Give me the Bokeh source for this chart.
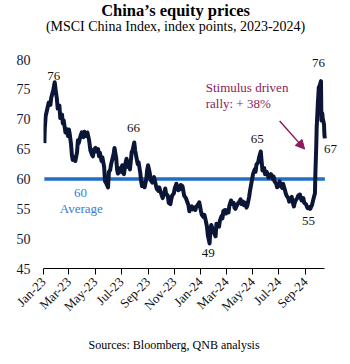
import datetime as dt
from bokeh.plotting import figure
from bokeh.models import Range1d, FixedTicker, Label, Arrow, NormalHead, ColumnDataSource, Title
from bokeh.embed import file_html
from bokeh.resources import INLINE
import math

# ---- data -----------------------------------------------------------------
dates_2023 = ["01-03", "01-04", "01-06", "01-10", "01-13", "01-17", "01-19", "01-24", "01-27", "01-30",
              "02-01", "02-03", "02-07", "02-09", "02-13", "02-15", "02-17", "02-21", "02-23", "02-27",
              "03-01", "03-03", "03-06", "03-08", "03-10", "03-14", "03-16", "03-20", "03-22", "03-24",
              "03-28", "03-31", "04-04", "04-06", "04-11", "04-13", "04-17", "04-20", "04-24", "04-26",
              "04-28", "05-02", "05-04", "05-08", "05-10", "05-12", "05-16", "05-18", "05-22", "05-24",
              "05-26", "05-31", "06-02", "06-05", "06-07", "06-09", "06-13", "06-15", "06-19", "06-21",
              "06-23", "06-27", "06-29", "07-03", "07-05", "07-07", "07-11", "07-13", "07-17", "07-19",
              "07-21", "07-25", "07-27", "07-31", "08-02", "08-04", "08-08", "08-10", "08-14", "08-16",
              "08-18", "08-22", "08-24", "08-28", "08-30", "09-01", "09-05", "09-07", "09-11", "09-13",
              "09-15", "09-19", "09-21", "09-25", "09-27", "10-03", "10-05", "10-09", "10-11", "10-13",
              "10-17", "10-19", "10-23", "10-25", "10-27", "10-31", "11-02", "11-06", "11-08", "11-10",
              "11-14", "11-16", "11-20", "11-22", "11-24", "11-28", "11-30", "12-04", "12-06", "12-08",
              "12-12", "12-14", "12-18", "12-20", "12-22", "12-27", "12-29"]
values_2023 = [66.0, 68.5, 70.5, 71.8, 72.8, 72.4, 73.6, 75.0, 76.2, 74.5,
               73.5, 71.8, 72.3, 70.2, 70.8, 69.3, 69.8, 67.8, 68.4, 67.2,
               68.3, 67.5, 65.8, 64.0, 63.2, 63.6, 63.0, 64.5, 66.5, 66.0,
               67.2, 67.8, 67.0, 67.9, 67.2, 67.8, 66.5, 64.8, 64.0, 63.8,
               64.9, 65.2, 64.6, 65.0, 63.8, 64.4, 63.0, 63.6, 62.0, 59.6,
               59.4, 58.6, 61.2, 61.5, 62.4, 63.0, 64.2, 65.2, 63.5, 61.6,
               60.9, 61.8, 61.2, 62.3, 61.0, 60.8, 62.8, 63.4, 62.0, 62.5,
               61.6, 64.5, 64.8, 66.1, 64.8, 64.0, 62.5, 62.8, 61.0, 59.6,
               58.8, 59.4, 58.6, 60.0, 61.5, 62.3, 61.0, 59.8, 59.4, 59.9,
               60.3, 59.0, 58.4, 58.0, 58.6, 57.2, 56.8, 57.6, 58.4, 57.5,
               57.2, 56.0, 55.8, 56.6, 57.2, 57.6, 58.4, 59.2, 58.6, 58.1,
               58.3, 59.0, 58.8, 58.0, 57.2, 56.8, 56.4, 55.6, 54.6, 55.0,
               55.4, 54.9, 55.2, 54.8, 55.3, 55.8, 56.1]
dates_2024 = ["01-02", "01-04", "01-08", "01-10", "01-12", "01-16", "01-18", "01-22", "01-24", "01-26",
              "01-30", "02-01", "02-05", "02-07", "02-09", "02-13", "02-15", "02-19", "02-21", "02-23",
              "02-27", "02-29", "03-04", "03-06", "03-08", "03-12", "03-14", "03-18", "03-20", "03-22",
              "03-26", "03-28", "04-01", "04-03", "04-05", "04-09", "04-11", "04-15", "04-17", "04-19",
              "04-23", "04-25", "04-29", "05-02", "05-06", "05-08", "05-10", "05-14", "05-16", "05-20",
              "05-22", "05-24", "05-28", "05-30", "06-03", "06-05", "06-07", "06-11", "06-13", "06-17",
              "06-19", "06-21", "06-25", "06-27", "07-01", "07-03", "07-05", "07-09", "07-11", "07-15",
              "07-17", "07-19", "07-23", "07-25", "07-29", "07-31", "08-02", "08-05", "08-07", "08-09",
              "08-13", "08-15", "08-19", "08-21", "08-23", "08-27", "08-29", "09-02", "09-04", "09-06",
              "09-10", "09-12", "09-16", "09-18", "09-20", "09-23", "09-24", "09-25", "09-26", "09-27",
              "09-30", "10-02", "10-03", "10-04", "10-07", "10-08", "10-09", "10-10", "10-11", "10-14",
              "10-15", "10-16"]
values_2024 = [54.6, 54.0, 53.6, 54.0, 53.4, 52.0, 50.6, 49.2, 51.5, 52.3,
               51.4, 51.0, 50.4, 52.5, 52.2, 52.0, 53.0, 53.8, 53.4, 54.6,
               54.8, 54.2, 54.8, 54.4, 55.5, 56.4, 55.8, 56.0, 55.2, 55.0,
               55.6, 55.9, 56.3, 56.6, 55.8, 56.2, 55.6, 56.0, 55.2, 55.6,
               57.0, 58.0, 59.6, 60.8, 61.6, 61.2, 62.4, 62.8, 63.6, 64.6,
               63.0, 61.4, 61.8, 60.8, 61.2, 60.8, 60.2, 60.5, 60.8, 60.0,
               60.4, 59.6, 59.2, 58.6, 58.9, 59.6, 59.0, 58.5, 59.2, 58.2,
               57.6, 57.2, 56.8, 56.2, 56.8, 57.0, 56.2, 55.4, 56.0, 56.4,
               56.8, 57.2, 57.4, 56.8, 56.4, 56.8, 56.0, 55.8, 55.4, 55.1,
               55.3, 55.0, 55.6, 56.2, 56.8, 57.6, 61.0, 63.2, 65.5, 68.6,
               73.0, 75.4, 74.6, 75.6, 76.4, 69.8, 70.4, 71.0, 70.2, 69.2,
               67.4, 66.8]
average_value = 60
tick_dates = ["2023-01-01", "2023-03-01", "2023-05-01", "2023-07-01", "2023-09-01", "2023-11-01",
              "2024-01-01", "2024-03-01", "2024-05-01", "2024-07-01", "2024-09-01"]
tick_labels = ["Jan-23", "Mar-23", "May-23", "Jul-23", "Sep-23", "Nov-23",
               "Jan-24", "Mar-24", "May-24", "Jul-24", "Sep-24"]
y_ticks = [45, 50, 55, 60, 65, 70, 75, 80]

# ---- helpers ----------------------------------------------------------------
EPOCH = dt.datetime(1970, 1, 1)

def ms(d):
    return (d - EPOCH).total_seconds() * 1000.0

def parse(s):
    return dt.datetime.strptime(s, "%Y-%m-%d")

dates = [parse("2023-" + d) for d in dates_2023] + [parse("2024-" + d) for d in dates_2024]
values = values_2023 + values_2024

SERIF = "Liberation Serif"
NAVY = "#0b1636"
BLUE = "#1f6fc6"
LBLUE = "#3a7bd5"
MAROON = "#8c1a5c"

x_start = ms(parse("2023-01-01"))
x_axis_end = ms(parse("2024-10-16"))
x_end = ms(parse("2024-12-03"))

p = figure(width=350, height=364, x_axis_type="datetime",
           x_range=Range1d(x_start, x_end), y_range=Range1d(45, 89.9),
           output_backend="svg", toolbar_location=None,
           min_border_left=43, min_border_right=5, min_border_top=0, min_border_bottom=96)
p.outline_line_color = None
p.xgrid.visible = False
p.ygrid.visible = False
p.background_fill_color = "white"
p.border_fill_color = "white"

# average line
p.line([dates[0], dates[-1]], [average_value, average_value], line_width=3.5, color=BLUE)
# index line
src = ColumnDataSource(dict(x=dates, y=values))
p.line("x", "y", source=src, line_width=4, color=NAVY, line_join="round")

# axes
xa = p.xaxis[0]
xa.bounds = (x_start, x_axis_end)
xa.ticker = FixedTicker(ticks=[ms(parse(t)) for t in tick_dates])
xa.major_label_overrides = {ms(parse(t)): lab for t, lab in zip(tick_dates, tick_labels)}
xa.major_label_orientation = math.pi / 4
xa.major_tick_out = 6
xa.major_tick_in = 0
xa.minor_tick_line_color = None
xa.axis_line_color = "black"
xa.major_tick_line_color = "black"
xa.major_label_text_font = SERIF
xa.major_label_text_font_size = "13px"
xa.major_label_text_color = "#111111"
xa.major_label_standoff = 5

ya = p.yaxis[0]
ya.ticker = FixedTicker(ticks=y_ticks)
ya.axis_line_color = None
ya.major_tick_line_color = None
ya.minor_tick_line_color = None
ya.major_label_text_font = SERIF
ya.major_label_text_font_size = "14px"
ya.major_label_text_color = "#14143a"
ya.major_label_standoff = 7

def lab(x, y, text, color=NAVY, size="13px", align="center", style="normal"):
    p.add_layout(Label(x=ms(parse(x)), y=y, text=text, text_font=SERIF, text_font_size=size,
                       text_color=color, text_align=align, text_baseline="middle",
                       text_font_style=style))

lab("2023-01-25", 77.3, "76", color="#111111")
lab("2023-07-29", 68.5, "66", color="#111111")
lab("2024-05-12", 66.7, "65", color="#111111")
lab("2024-01-19", 47.6, "49", color="#111111")
lab("2024-09-08", 53.0, "55", color="#111111")
lab("2024-10-29", 65.0, "67", color="#111111")
lab("2024-10-01", 79.5, "76", color="#111111")
lab("2023-03-28", 57.6, "60", color=LBLUE)
lab("2023-03-30", 55.1, "Average", color=LBLUE)
lab("2024-01-13", 75.3, "Stimulus driven", color=MAROON, align="left")
lab("2024-01-13", 72.6, "rally: + 38%", color=MAROON, align="left")

# title / subtitle inside the (extended) frame
lab("2023-11-04", 88.2, "China\u2019s equity prices", color="#000000", size="16.5px", style="bold")
lab("2023-11-04", 85.5, "(MSCI China Index, index points, 2023-2024)", color="#000000", size="14px")

p.add_layout(Arrow(end=NormalHead(size=9, fill_color=MAROON, line_color=MAROON),
                   x_start=ms(parse("2024-07-03")), y_start=69.7,
                   x_end=ms(parse("2024-08-30")), y_end=65.0,
                   line_color=MAROON, line_width=1.5))

# spacer then source line below the axis
p.add_layout(Title(text=" ", text_font_size="1px", standoff=10), "below")
p.add_layout(Title(text="Sources: Bloomberg, QNB analysis", align="left",
                   text_font=SERIF, text_font_size="12px", text_font_style="normal",
                   text_color="#000000", offset=45, standoff=0), "below")

open("out.html", "w").write(file_html(p, INLINE))
